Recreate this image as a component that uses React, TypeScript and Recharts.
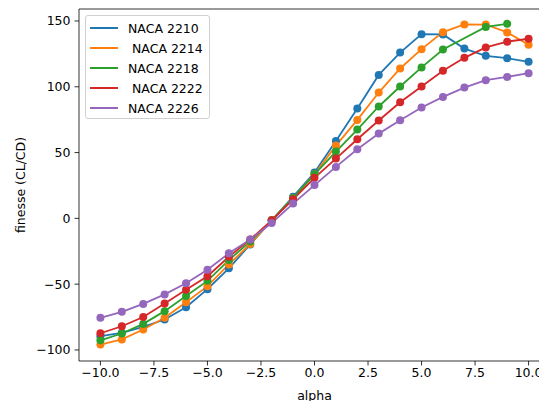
import React from 'react';
import { LineChart, Line, XAxis, YAxis, ReferenceLine } from 'recharts';

const alpha = [-10, -9, -8, -7, -6, -5, -4, -3, -2, -1, 0, 1, 2, 3, 4, 5, 6, 7, 8, 9, 10];
const naca2210 = [-89.5, -87, -82.4, -76.9, -67.5, -53.8, -38, -19.8, -1.5, 16.5, 34.8, 58.8, 83.5, 109, 126, 140, 139.8, 129, 123.5, 121.7, 119];
const naca2214 = [-95.9, -92, -84.5, -75.6, -63.7, -51.5, -35, -19.5, -1.5, 15.5, 33.5, 55.3, 74.8, 95.6, 113.9, 128.6, 141.5, 147.4, 147.3, 141.3, 131.9];
const naca2218 = [-92.7, -87.5, -80.2, -70.5, -59, -47.5, -31.7, -17.5, -1.5, 15.5, 33.5, 50.8, 67.5, 85, 100.2, 114.7, 128.3, null, 145.5, 147.8, null];
const naca2222 = [-87.3, -82, -75, -64.7, -54.3, -44, -29.2, -16, -1.5, 14.5, 30.8, 45.4, 60.1, 74.4, 88.2, 100.2, 112.1, 122, 129.9, 134.3, 136.5];
const naca2226 = [-75.6, -71, -65, -57.8, -49.3, -39, -26.6, -16, -3.5, 11.2, 25.3, 39.1, 52.5, 64.4, 74.6, 84.2, 92.3, 99.4, 105, 107.5, 110.3];

const seriesNames = ['NACA 2210', ' NACA 2214', 'NACA 2218', ' NACA 2222', 'NACA 2226'];
const seriesKeys = ['s2210', 's2214', 's2218', 's2222', 's2226'];
const seriesValues = [naca2210, naca2214, naca2218, naca2222, naca2226];
const colors = ['#1f77b4', '#ff7f0e', '#2ca02c', '#d62728', '#9467bd'];

const xTicks = [-10, -7.5, -5, -2.5, 0, 2.5, 5, 7.5, 10];
const yTicks = [-100, -50, 0, 50, 100, 150];
const xDomain = [-11, 11];
const yDomain = [-108.4, 159.1];

const data = alpha.map((a, i) => {
  const row: any = { alpha: a };
  seriesKeys.forEach((k, j) => {
    row[k] = seriesValues[j][i];
  });
  return row;
});

const FONT = 'DejaVu Sans';
const fmt = (v: number, digits: number) => {
  const s = Math.abs(v).toFixed(digits);
  return v < 0 ? '\u2212' + s : s;
};

const LegendBox = () => (
  <div
    style={{
      position: 'absolute',
      left: 85,
      top: 15,
      boxSizing: 'border-box',
      width: 125,
      height: 104,
      border: '1px solid #d0d0d0',
      borderRadius: 3,
      background: 'rgba(255,255,255,0.8)',
      padding: '2px 0 0 4px',
      fontFamily: FONT,
      fontSize: 12.5,
      color: '#000',
    }}
  >
    {seriesNames.map((n, i) => (
      <div key={i} style={{ display: 'flex', alignItems: 'center', height: 20 }}>
        <svg width={28} height={4} style={{ marginRight: 10 }}>
          <line x1={0} y1={2} x2={28} y2={2} stroke={colors[i]} strokeWidth={2} />
        </svg>
        <span style={{ whiteSpace: 'pre' }}>{n}</span>
      </div>
    ))}
  </div>
);

const YLabel = (props: any) => {
  const vb = props.viewBox || {};
  const cx = vb.x + 20;
  const cy = vb.y + vb.height / 2;
  return (
    <text
      x={cx}
      y={cy}
      transform={`rotate(-90 ${cx} ${cy})`}
      textAnchor="middle"
      dominantBaseline="central"
      fontFamily={FONT}
      fontSize={12.5}
      fill="#000"
    >
      finesse (CL/CD)
    </text>
  );
};

const XLabel = (props: any) => {
  const vb = props.viewBox || {};
  const cx = vb.x + vb.width / 2;
  const cy = vb.y + 34;
  return (
    <text x={cx} y={cy} textAnchor="middle" dominantBaseline="central" fontFamily={FONT} fontSize={12.5} fill="#000">
      alpha
    </text>
  );
};

export default function App() {
  const tickStyle = { fontFamily: FONT, fontSize: 12.5, fill: '#000' };
  return (
    <div style={{ position: 'absolute', left: 0, top: 0, width: 539, height: 401, overflow: 'hidden', background: '#fff' }}>
      <LineChart width={550} height={401} data={data} margin={{ top: 9, right: 0, left: 0, bottom: 0 }}>
        <XAxis
          dataKey="alpha"
          type="number"
          domain={xDomain}
          ticks={xTicks}
          tickFormatter={(v: number) => fmt(v, 1)}
          tick={tickStyle}
          tickSize={4.5}
          tickMargin={3}
          height={40}
          stroke="#000"
          strokeWidth={0.8}
          allowDataOverflow
          label={<XLabel />}
        />
        <YAxis
          type="number"
          domain={yDomain}
          ticks={yTicks}
          tickFormatter={(v: number) => fmt(v, 0)}
          tick={tickStyle}
          tickSize={4.5}
          tickMargin={4}
          width={79}
          stroke="#000"
          strokeWidth={0.8}
          allowDataOverflow
          label={<YLabel />}
        />
        <ReferenceLine y={yDomain[1]} stroke="#000" strokeWidth={0.8} ifOverflow="visible" />
        <ReferenceLine x={xDomain[1]} stroke="#000" strokeWidth={0.8} ifOverflow="visible" />
        {seriesKeys.map((k, i) => (
          <Line
            key={k}
            dataKey={k}
            name={seriesNames[i]}
            stroke={colors[i]}
            strokeWidth={1.8}
            dot={{ r: 4, fill: colors[i], stroke: colors[i], strokeWidth: 0 }}
            activeDot={false}
            connectNulls
            isAnimationActive={false}
            type="linear"
          />
        ))}
      </LineChart>
      <LegendBox />
    </div>
  );
}
